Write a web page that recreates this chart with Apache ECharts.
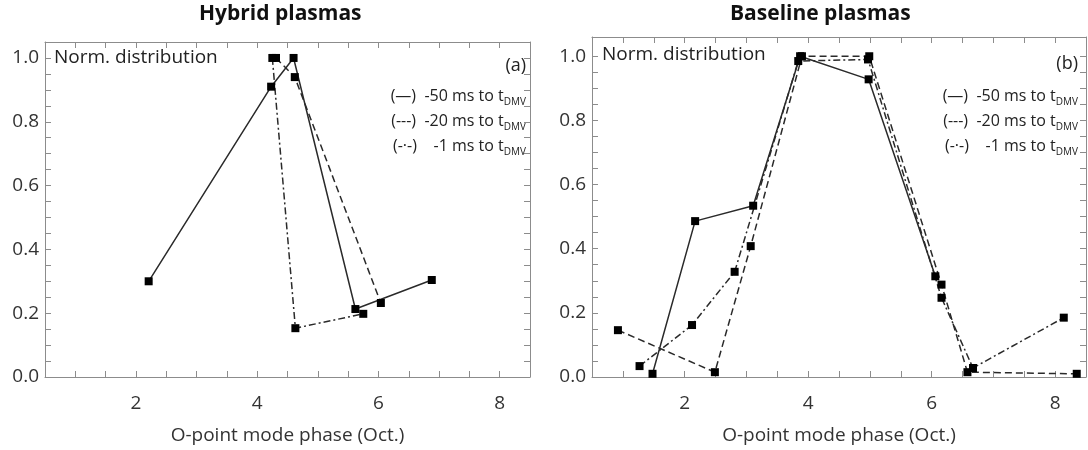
<!DOCTYPE html>
<html lang="en">
<head>
<meta charset="UTF-8">
<title>Norm. distribution</title>
<script src="https://cdn.jsdelivr.net/npm/echarts@6/dist/echarts.min.js"></script>
<style>
    *{margin:0;padding:0;}
    body{background:#fff;}
    #main{width:1088px;height:450px;}
</style>
</head>
<body>
<div id="main"></div>
<script>
// values: [O-point mode phase (Oct.), norm. distribution]
var hybrid50 = [[2.21,0.30],[4.23,0.91],[4.60,1.0],[5.62,0.213],[6.88,0.304]]
var hybrid20 = [[4.31,1.0],[4.62,0.94],[6.04,0.232]]
var hybrid1 = [[4.25,1.0],[4.63,0.153],[5.75,0.198]]
var base50 = [[1.48,0.01],[2.17,0.486],[3.11,0.534],[3.87,1.0],[4.98,0.928],[6.06,0.314]]
var base20 = [[0.92,0.146],[2.49,0.015],[3.07,0.408],[3.90,1.0],[4.99,1.0],[6.16,0.288],[6.58,0.015],[8.35,0.01]]
var base1 = [[1.27,0.034],[2.12,0.162],[2.81,0.328],[3.84,0.985],[4.97,0.99],[6.16,0.247],[6.67,0.028],[8.14,0.185]]

var xLabels = [2,4,6,8]
var yLabels = [0,0.2,0.4,0.6,0.8,1.0]
var xTicks = [1,1.5,2,2.5,3,3.5,4,4.5,5,5.5,6,6.5,7,7.5,8]
var yTicks = [0.05,0.1,0.15,0.2,0.25,0.3,0.35,0.4,0.45,0.5,0.55,0.6,0.65,0.7,0.75,0.8,0.85,0.9,0.95,1.0]
var legendMarks = ["(—)","(---)","(-·-)"]
var legendText = ["-50 ms to t","-20 ms to t","  -1 ms to t"]

var font = "Open Sans"
var axisGrey = "#8c8c8c"
var lineGrey = "#2a2a2a"

var myChart = echarts.init(document.getElementById("main"))

function xAxis(grid, pos){
    var bottom = pos == "bottom"
    return {
        type:"value", gridIndex:grid, position:pos,
        min:0.5, max:8.5,
        axisLine:{onZero:false, lineStyle:{color:axisGrey}},
        axisTick:{inside:true, length:6, customValues:xTicks, lineStyle:{color:axisGrey}},
        axisLabel:bottom ? {customValues:xLabels, fontSize:19, color:"#333", margin:17, fontFamily:font} : {show:false},
        splitLine:{show:false},
        name:bottom ? "O-point mode phase (Oct.)" : "",
        nameLocation:"middle", nameGap:49,
        nameTextStyle:{fontSize:19, color:"#333", fontFamily:font}
    }
}
function yAxis(grid, pos, max){
    var left = pos == "left"
    return {
        type:"value", gridIndex:grid, position:pos,
        min:0, max:max,
        axisLine:{onZero:false, lineStyle:{color:axisGrey}},
        axisTick:{inside:true, length:6, customValues:yTicks, lineStyle:{color:axisGrey}},
        axisLabel:left ? {customValues:yLabels, fontSize:19, color:"#333", margin:6, fontFamily:font,
            formatter:function(v){return v.toFixed(1)}} : {show:false},
        splitLine:{show:false}
    }
}

var solid = {type:"solid", width:1.5, color:lineGrey}
var dashed = {type:[7,4], width:1.5, color:lineGrey}
var dashdot = {type:[7,3,2,3], width:1.5, color:lineGrey}

function line(data, style, axis){
    return {
        type:"line", data:data,
        xAxisIndex:axis, yAxisIndex:axis,
        symbol:"rect", symbolSize:8,
        itemStyle:{color:"#000"},
        lineStyle:style,
        animation:false
    }
}

function legend(right, top){
    var out = []
    for(var i=0;i<3;i++){
        out.push({
            type:"text", right:right, top:top + i*25,
            style:{
                text:"{n|" + legendMarks[i] + "  " + legendText[i] + "}{s|DMV}",
                rich:{
                    n:{fontSize:16, fontFamily:font, fill:"#222", lineHeight:22},
                    s:{fontSize:10, fontFamily:font, fill:"#222", lineHeight:14, verticalAlign:"bottom"}
                }
            }
        })
    }
    return out
}

var option = {
    backgroundColor:"#fff",
    grid:[
        {left:45, top:42, width:485, height:339},
        {left:592, top:37, width:494, height:346}
    ],
    xAxis:[xAxis(0,"bottom"), xAxis(0,"top"), xAxis(1,"bottom"), xAxis(1,"top")],
    yAxis:[yAxis(0,"left",1.05), yAxis(0,"right",1.05), yAxis(1,"left",1.06), yAxis(1,"right",1.06)],
    series:[
        line(hybrid50, solid, 0),
        line(hybrid20, dashed, 0),
        line(hybrid1, dashdot, 0),
        line(base50, solid, 2),
        line(base20, dashed, 2),
        line(base1, dashdot, 2)
    ],
    graphic:[
        {type:"text", left:199, top:4, style:{text:"Hybrid plasmas", fontSize:21, fontWeight:"bold", fontFamily:font, fill:"#111"}},
        {type:"text", left:730, top:4, style:{text:"Baseline plasmas", fontSize:21, fontWeight:"bold", fontFamily:font, fill:"#111"}},
        {type:"text", left:54, top:48, style:{text:"Norm. distribution", fontSize:19, fontFamily:font, fill:"#222"}},
        {type:"text", left:602, top:45, style:{text:"Norm. distribution", fontSize:19, fontFamily:font, fill:"#222"}},
        {type:"text", right:562, top:57, style:{text:"(a)", fontSize:18, fontFamily:font, fill:"#222"}},
        {type:"text", right:10, top:55, style:{text:"(b)", fontSize:18, fontFamily:font, fill:"#222"}}
    ].concat(legend(562, 88)).concat(legend(10, 88))
}

myChart.setOption(option)
window.onresize = myChart.resize
</script>
</body>
</html>
